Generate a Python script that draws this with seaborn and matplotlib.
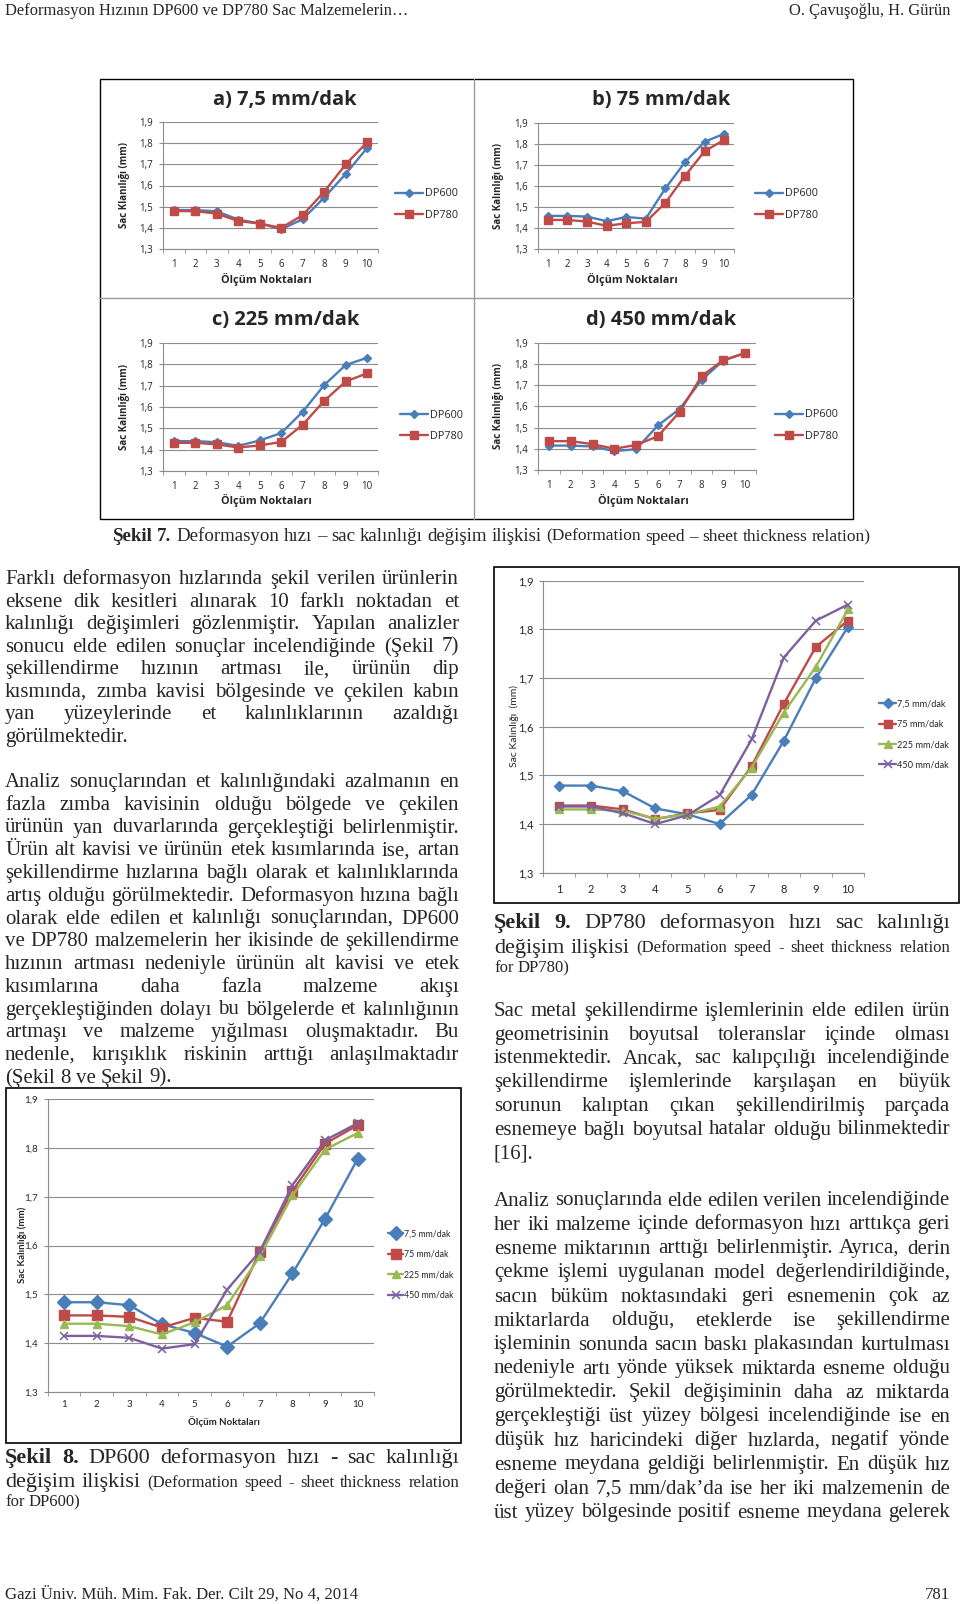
import matplotlib
matplotlib.use("Agg")
import matplotlib.pyplot as plt
import seaborn as sns
import numpy as np
from matplotlib.lines import Line2D
from matplotlib.patches import Rectangle

# ---------------- data ----------------
points = list(range(1, 11))
speed_labels = ["7,5 mm/dak", "75 mm/dak", "225 mm/dak", "450 mm/dak"]
panel_titles = ["a) 7,5 mm/dak", "b) 75 mm/dak", "c) 225 mm/dak", "d) 450 mm/dak"]
panel_ylabels = ["Sac Klanılığı (mm)", "Sac Kalınlığı (mm)",
                 "Sac Kalınlığı (mm)", "Sac Kalınlığı (mm)"]
materials = ["DP600", "DP780"]

dp600_7_5 = [1.484, 1.484, 1.478, 1.439, 1.421, 1.393, 1.441, 1.543, 1.655, 1.778]
dp600_75 = [1.457, 1.457, 1.454, 1.432, 1.452, 1.444, 1.588, 1.712, 1.809, 1.847]
dp600_225 = [1.440, 1.440, 1.435, 1.418, 1.443, 1.478, 1.578, 1.703, 1.797, 1.831]
dp600_450 = [1.415, 1.415, 1.411, 1.389, 1.398, 1.510, 1.588, 1.724, 1.816, 1.851]

dp780_7_5 = [1.479, 1.479, 1.467, 1.432, 1.420, 1.400, 1.460, 1.571, 1.700, 1.805]
dp780_75 = [1.438, 1.438, 1.430, 1.410, 1.422, 1.429, 1.519, 1.647, 1.764, 1.818]
dp780_225 = [1.430, 1.430, 1.427, 1.411, 1.420, 1.436, 1.516, 1.629, 1.723, 1.841]
dp780_450 = [1.436, 1.436, 1.422, 1.400, 1.418, 1.459, 1.574, 1.742, 1.818, 1.851]
# panel c of Sekil 7 shows a different last DP780 value
dp780_225_fig7 = [1.432, 1.432, 1.425, 1.410, 1.420, 1.436, 1.517, 1.629, 1.720, 1.758]

y_ticks = [1.3, 1.4, 1.5, 1.6, 1.7, 1.8, 1.9]
y_tick_labels = ["1,3", "1,4", "1,5", "1,6", "1,7", "1,8", "1,9"]
x_tick_labels = [str(p) for p in points]

# ---------------- setup ----------------
W, H = 960, 1604
sns.set_style("white")
plt.rcParams['font.family'] = ['DejaVu Sans']

fig = plt.figure(figsize=(W / 100, H / 100), dpi=100)
fig.patch.set_facecolor("white")
renderer = fig.canvas.get_renderer()

C_BLUE, C_RED, C_GREEN, C_PURPLE = "#4A7EBB", "#BE4B48", "#98B954", "#7D60A0"
GRID = "#8c8c8c"


def fx(x):
    return x / W


def fy(y):
    return 1 - y / H


def add_ax(l, t, r, b):
    return fig.add_axes([fx(l), fy(b), (r - l) / W, (b - t) / H])


def style_axis(ax, font, tick_size, xpad, ypad):
    ax.set_xlim(0.5, 10.5)
    ax.set_ylim(1.3, 1.9)
    ax.set_yticks(y_ticks)
    ax.set_yticklabels(y_tick_labels)
    ax.set_xticks(points)
    ax.set_xticklabels(x_tick_labels)
    ax.set_xticks(np.arange(0.5, 11, 1.0), minor=True)
    ax.grid(axis='y', color=GRID, lw=0.8)
    ax.grid(axis='x', visible=False)
    ax.set_axisbelow(True)
    for s in ['top', 'right']:
        ax.spines[s].set_visible(False)
    for s in ['left', 'bottom']:
        ax.spines[s].set_color(GRID)
        ax.spines[s].set_linewidth(0.8)
    ax.tick_params(axis='y', which='major', left=True, length=3, color=GRID,
                   pad=ypad, labelsize=tick_size)
    ax.tick_params(axis='x', which='major', length=0, pad=xpad, labelsize=tick_size)
    ax.tick_params(axis='x', which='minor', bottom=True, length=3, color=GRID)
    for lab in ax.get_xticklabels() + ax.get_yticklabels():
        lab.set_family(font)
    ax.set_xlabel('')
    ax.set_ylabel('')
    ax.set_facecolor('none')


def draw(ax, values, color, marker, ms, label, lw, mew=1.0):
    sns.lineplot(x=points, y=values, ax=ax, color=color, marker=marker,
                 markersize=ms, markeredgecolor=color, markerfacecolor=color,
                 markeredgewidth=mew, linewidth=lw, label=label, errorbar=None,
                 legend=False)


def legend(ax, x_left, y_center, font, size, hl, hp, ls):
    h, l = ax.get_legend_handles_labels()
    ax.legend(h, l, loc='center left', bbox_to_anchor=(fx(x_left), fy(y_center)),
              bbox_transform=fig.transFigure, frameon=False,
              prop={'family': font, 'size': size}, handlelength=hl,
              handletextpad=hp, labelspacing=ls, borderpad=0, borderaxespad=0,
              numpoints=1)


# ---------------- Sekil 7 panels ----------------
panel_font = 'Open Sans'
panels = [
    dict(box=(163, 122, 378, 249), title=(285, 100), ylab=124, xlab=279,
         leg=(395, 204.5), d600=dp600_7_5, d780=dp780_7_5),
    dict(box=(538, 122.6, 734, 249), title=(661, 100), ylab=499, xlab=279,
         leg=(755, 204.5), d600=dp600_75, d780=dp780_75),
    dict(box=(163, 343, 378, 471), title=(286, 320), ylab=124, xlab=500,
         leg=(400, 425.7), d600=dp600_225, d780=dp780_225_fig7),
    dict(box=(538, 342.7, 756, 470), title=(661, 320), ylab=499, xlab=500,
         leg=(775, 425.5), d600=dp600_450, d780=dp780_450),
]
for p, ttl, ylab in zip(panels, panel_titles, panel_ylabels):
    l, t, r, b = p['box']
    ax = add_ax(l, t, r, b)
    draw(ax, p['d600'], C_BLUE, 'D', 3.8, materials[0], 1.7)
    draw(ax, p['d780'], C_RED, 's', 5.2, materials[1], 1.7)
    style_axis(ax, panel_font, 7, xpad=7.5, ypad=4)
    legend(ax, p['leg'][0], p['leg'][1], panel_font, 7.8, 2.6, 0.2, 0.95)
    fig.text(fx(p['title'][0]), fy(p['title'][1]), ttl, ha='center', va='center',
             family=panel_font, weight='bold', size=14.5)
    fig.text(fx(p['ylab']), fy((t + b) / 2), ylab, rotation=90,
             ha='center', va='center', family=panel_font, weight='bold', size=7.0)
    fig.text(fx((l + r) / 2 - 4), fy(p['xlab']), "Ölçüm Noktaları", ha='center',
             va='center', family=panel_font, weight='bold', size=7.8)

fig.add_artist(Rectangle((fx(99.5), fy(519)), (852.5 - 99.5) / W, (519 - 78.5) / H,
                         transform=fig.transFigure, fill=False, ec='black', lw=1.0))
fig.add_artist(Line2D([fx(473.5), fx(473.5)], [fy(78.5), fy(519)],
                      transform=fig.transFigure, color='#9a9a9a', lw=1.0))
fig.add_artist(Line2D([fx(99.5), fx(852.5)], [fy(298), fy(298)],
                      transform=fig.transFigure, color='#9a9a9a', lw=1.0))

# ---------------- Sekil 9 (DP780) ----------------
chart_font = 'Lato'
ax9 = add_ax(543, 580.7, 864, 872.7)
draw(ax9, dp780_7_5, C_BLUE, 'D', 5.5, speed_labels[0], 1.7)
draw(ax9, dp780_75, C_RED, 's', 5.5, speed_labels[1], 1.7)
draw(ax9, dp780_225, C_GREEN, '^', 5.5, speed_labels[2], 1.7)
draw(ax9, dp780_450, C_PURPLE, 'x', 5.5, speed_labels[3], 1.7, mew=1.1)
style_axis(ax9, chart_font, 8, xpad=8, ypad=4)
legend(ax9, 879, 734.5, chart_font, 6.6, 1.9, 0.1, 1.25)
fig.text(fx(514), fy(726), "Sac Kalınlığı  (mm)", rotation=90, ha='center',
         va='center', family=chart_font, size=7.5)
fig.add_artist(Rectangle((fx(493.5), fy(903)), (958.5 - 493.5) / W, (903 - 566.5) / H,
                         transform=fig.transFigure, fill=False, ec='black', lw=1.2))

# ---------------- Sekil 8 (DP600) ----------------
ax8 = add_ax(47.7, 1099.3, 374, 1392)
draw(ax8, dp600_7_5, C_BLUE, 'D', 7.0, speed_labels[0], 1.7)
draw(ax8, dp600_75, C_RED, 's', 6.5, speed_labels[1], 1.7)
draw(ax8, dp600_225, C_GREEN, '^', 5.5, speed_labels[2], 1.7)
draw(ax8, dp600_450, C_PURPLE, 'x', 5.5, speed_labels[3], 1.7, mew=1.1)
style_axis(ax8, chart_font, 7, xpad=6, ypad=4)
legend(ax8, 388, 1264.5, chart_font, 6.3, 1.75, 0.1, 1.3)
fig.text(fx(22), fy(1245), "Sac Kalınlığı (mm)", rotation=90, ha='center',
         va='center', family=chart_font, weight='bold', size=7)
fig.text(fx(224), fy(1422), "Ölçüm Noktaları", ha='center', va='center',
         family=chart_font, weight='bold', size=7)
fig.add_artist(Rectangle((fx(5.5), fy(1443)), (460.5 - 5.5) / W, (1443 - 1087.5) / H,
                         transform=fig.transFigure, fill=False, ec='black', lw=1.2))

# ---------------- text helpers ----------------
SERIF = 'Liberation Serif'
body = dict(family=SERIF, size=15)
cap_b = dict(family=SERIF, size=16, weight='bold')
cap_n = dict(family=SERIF, size=16)
cap_s = dict(family=SERIF, size=12)


def width_of(s, style):
    t = fig.text(0, 0, s, **style)
    w = t.get_window_extent(renderer=renderer).width
    t.remove()
    return w


def space_of(style):
    return width_of("x x", style) - width_of("xx", style)


def put(x, y, s, style, ha='left'):
    return fig.text(fx(x), fy(y), s, va='baseline', ha=ha, **style)


def layout_line(segments, x0, x1, y, justify):
    words = []
    for text, style in segments:
        for w in text.split(' '):
            if w:
                words.append((w, style))
    widths = [width_of(w, st) for w, st in words]
    if justify and len(words) > 1:
        g = (x1 - x0 - sum(widths)) / (len(words) - 1)
        gaps = [g] * (len(words) - 1)
    else:
        gaps = [space_of(st) for _, st in words[:-1]]
    x = x0
    for i, ((w, st), wd) in enumerate(zip(words, widths)):
        put(x, y, w, st)
        if i < len(gaps):
            x += wd + gaps[i]


def paragraph(lines, x0, x1, y0, step, last_justified=False, style=body):
    for i, ln in enumerate(lines):
        last = (i == len(lines) - 1)
        layout_line([(ln, style)], x0, x1, y0 + i * step,
                    justify=(not last) or last_justified)


def fitted_size(s, family, target, base=12):
    return base * target / width_of(s, dict(family=family, size=base))


# ---------------- header / footer ----------------
hdr_left = "Deformasyon Hızının DP600 ve DP780 Sac Malzemelerin…"
hs = fitted_size(hdr_left, SERIF, 404)
put(5, 15, hdr_left, dict(family=SERIF, size=hs))
put(950, 15, "O. Çavuşoğlu, H. Gürün", dict(family=SERIF, size=hs), ha='right')
ftr_left = "Gazi Üniv. Müh. Mim. Fak. Der. Cilt 29, No 4, 2014"
fs = fitted_size(ftr_left, SERIF, 351)
put(5, 1599, ftr_left, dict(family=SERIF, size=fs))
put(950, 1599, "781", dict(family=SERIF, size=fs), ha='right')

# ---------------- captions ----------------
layout_line([("Şekil 7.", dict(family=SERIF, size=13.6, weight='bold')),
             ("Deformasyon hızı – sac kalınlığı değişim ilişkisi",
              dict(family=SERIF, size=13.6)),
             ("(Deformation speed – sheet thickness relation)",
              dict(family=SERIF, size=12.5))],
            112.6, 872, 540.7, justify=False)

LX0, LX1 = 5, 459
RX0, RX1 = 494, 950

layout_line([("Şekil 8.", cap_b), ("DP600 deformasyon hızı - sac kalınlığı", cap_n)],
            LX0, LX1, 1463, True)
layout_line([("değişim ilişkisi", cap_n),
             ("(Deformation speed - sheet thickness relation", cap_s)],
            LX0, LX1, 1487, True)
layout_line([("for DP600)", cap_s)], LX0, LX1, 1506, False)

layout_line([("Şekil 9.", cap_b), ("DP780 deformasyon hızı sac kalınlığı", cap_n)],
            RX0, RX1, 928, True)
layout_line([("değişim ilişkisi", cap_n),
             ("(Deformation speed - sheet thickness relation", cap_s)],
            RX0, RX1, 952.5, True)
layout_line([("for DP780)", cap_s)], RX0, RX1, 972.5, False)

# ---------------- body text ----------------
left_p1 = [
    "Farklı deformasyon hızlarında şekil verilen ürünlerin",
    "eksene dik kesitleri alınarak 10 farklı noktadan et",
    "kalınlığı değişimleri gözlenmiştir. Yapılan analizler",
    "sonucu elde edilen sonuçlar incelendiğinde (Şekil 7)",
    "şekillendirme hızının artması ile, ürünün dip",
    "kısmında, zımba kavisi bölgesinde ve çekilen kabın",
    "yan yüzeylerinde et kalınlıklarının azaldığı",
    "görülmektedir.",
]
left_p2 = [
    "Analiz sonuçlarından et kalınlığındaki azalmanın en",
    "fazla zımba kavisinin olduğu bölgede ve çekilen",
    "ürünün yan duvarlarında gerçekleştiği belirlenmiştir.",
    "Ürün alt kavisi ve ürünün etek kısımlarında ise, artan",
    "şekillendirme hızlarına bağlı olarak et kalınlıklarında",
    "artış olduğu görülmektedir. Deformasyon hızına bağlı",
    "olarak elde edilen et kalınlığı sonuçlarından, DP600",
    "ve DP780 malzemelerin her ikisinde de şekillendirme",
    "hızının artması nedeniyle ürünün alt kavisi ve etek",
    "kısımlarına daha fazla malzeme akışı",
    "gerçekleştiğinden dolayı bu bölgelerde et kalınlığının",
    "artmaşı ve malzeme yığılması oluşmaktadır. Bu",
    "nedenle, kırışıklık riskinin arttığı anlaşılmaktadır",
    "(Şekil 8 ve Şekil 9).",
]
right_p1 = [
    "Sac metal şekillendirme işlemlerinin elde edilen ürün",
    "geometrisinin boyutsal toleranslar içinde olması",
    "istenmektedir. Ancak, sac kalıpçılığı incelendiğinde",
    "şekillendirme işlemlerinde karşılaşan en büyük",
    "sorunun kalıptan çıkan şekillendirilmiş parçada",
    "esnemeye bağlı boyutsal hatalar olduğu bilinmektedir",
    "[16].",
]
right_p2 = [
    "Analiz sonuçlarında elde edilen verilen incelendiğinde",
    "her iki malzeme içinde deformasyon hızı arttıkça geri",
    "esneme miktarının arttığı belirlenmiştir. Ayrıca, derin",
    "çekme işlemi uygulanan model değerlendirildiğinde,",
    "sacın büküm noktasındaki geri esnemenin çok az",
    "miktarlarda olduğu, eteklerde ise şekillendirme",
    "işleminin sonunda sacın baskı plakasından kurtulması",
    "nedeniyle artı yönde yüksek miktarda esneme olduğu",
    "görülmektedir. Şekil değişiminin daha az miktarda",
    "gerçekleştiği üst yüzey bölgesi incelendiğinde ise en",
    "düşük hız haricindeki diğer hızlarda, negatif yönde",
    "esneme meydana geldiği belirlenmiştir. En düşük hız",
    "değeri olan 7,5 mm/dak’da ise her iki malzemenin de",
    "üst yüzey bölgesinde positif esneme meydana gelerek",
]

paragraph(left_p1, LX0, LX1, 584, 22.55)
paragraph(left_p2, LX0, LX1, 787, 22.75)
paragraph(right_p1, RX0, RX1, 1016, 23.7)
paragraph(right_p2, RX0, RX1, 1205.5, 24.0, last_justified=True)

fig.savefig("out.png", dpi=100, facecolor="white")
